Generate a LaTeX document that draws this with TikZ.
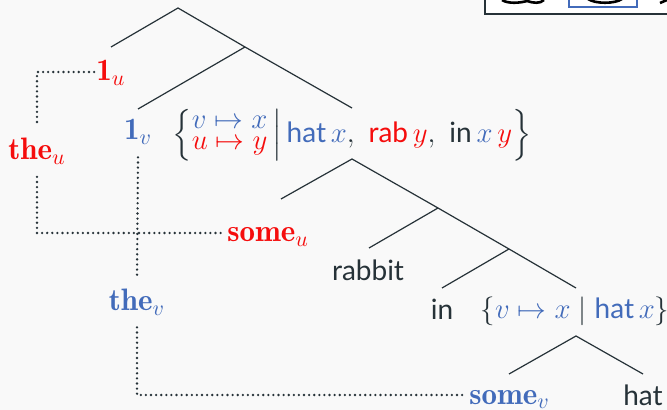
\documentclass[tikz,border=0pt]{standalone}
\usepackage{amsmath}
\usepackage{fontspec}
\newfontfamily\lato{Lato}
\definecolor{ink}{RGB}{38,50,56}
\definecolor{myblue}{RGB}{66,107,186}
\definecolor{myred}{RGB}{245,12,12}
\definecolor{bg}{RGB}{249,249,249}
\newcommand\twostack[2]{{\renewcommand\arraystretch{0.62}\begin{array}{@{}l@{}}#1\\#2\end{array}}}
\newcommand\myword[1]{\text{\fontsize{14}{16}\selectfont\lato #1}}
\begin{document}
\begin{tikzpicture}[x=0.5pt,y=-0.5pt,
  tree/.style={draw=ink,line width=0.6pt},
  dots/.style={draw=ink,line width=1.3pt,dash pattern=on 0pt off 2.55pt,line cap=round},
  lab/.style={inner sep=1pt,text=ink,font=\fontsize{15.5}{17}\selectfont,text height=11pt,text depth=2pt},
  word/.style={lab,font=\fontsize{14}{16}\selectfont\lato},
  setlab/.style={inner sep=1pt,text=ink,font=\fontsize{15}{17}\selectfont},
  redlab/.style={lab,text=myred},
  bluelab/.style={lab,text=myblue},
  gap/.style={minimum height=#1}
]
\useasboundingbox (0,0) rectangle (667,410);
\clip (0,0) rectangle (667,410);
\fill[bg] (0,0) rectangle (667,410);

% cropped picture box at top right
\filldraw[fill=white,draw=ink,line width=1pt] (485,-20) rectangle (690,14);
\draw[myblue,line width=1pt] (569,-20) rectangle (637,7);
\draw[black,line width=1.3pt] (502,0) .. controls (508,4) and (520,3) .. (527,1) .. controls (533,3) and (540,4) .. (544,0);
\draw[black,line width=1.3pt] (588,-1) .. controls (595,4) and (615,4) .. (622,-1);
\draw[black,line width=1.3pt] (660,3) -- (667,0);

% tree coordinates
\coordinate (n0) at (178,8);
\coordinate (e1u) at (111,47);
\coordinate (n1) at (245,47);
\coordinate (e1v) at (138,109);
\coordinate (eS) at (352,108);
\coordinate (n2) at (352,159);
\coordinate (esu) at (281,199);
\coordinate (n3) at (438,208);
\coordinate (erab) at (369,248);
\coordinate (n4) at (509,249);
\coordinate (ein) at (442,288);
\coordinate (eS2) at (576,288);
\coordinate (n5) at (576,336);
\coordinate (esv) at (509,374);
\coordinate (ehat) at (643,374);

\draw[tree] (e1u) -- (n0) -- (n1) -- (eS);
\draw[tree] (n1) -- (e1v);
\draw[tree] (esu) -- (n2) -- (n3) -- (n4) -- (eS2);
\draw[tree] (n3) -- (erab);
\draw[tree] (n4) -- (ein);
\draw[tree] (esv) -- (n5) -- (ehat);

% labels
\node[redlab] (u1) at (111,72) {$\mathbf{1}_u$};
\node[redlab,gap=25.5pt] (theu) at (37,151) {$\mathbf{the}_u$};
\node[bluelab,gap=26pt] (v1) at (138,131) {$\mathbf{1}_v$};
\node[bluelab,gap=25pt] (thev) at (137,302) {$\mathbf{the}_v$};
\node[redlab,anchor=west] (someu) at (225,233) {$\mathbf{some}_u$};
\node[bluelab,anchor=west] (somev) at (467,395) {$\mathbf{some}_v$};
\node[word] (rabbit) at (368,272) {rabbit};
\node[word] (in) at (442,311) {in};
\node[word] (hat) at (643,396) {hat};
\node[setlab] (s1) at (352,135) {$\left\{\twostack{\color{myblue}v\mapsto x}{\color{myred}u\mapsto y}\,\middle|\,{\color{myblue}\myword{hat}\,x},\ {\color{myred}\myword{rab}\,y},\ \myword{in}\,{\color{myblue}x}\,{\color{myred}y}\right\}$};
\node[setlab,text height=11pt,text depth=3pt] (s2) at (575,311) {$\{{\color{myblue}v\mapsto x}\mid{\color{myblue}\myword{hat}\,x}\}$};

% dotted links
\draw[dots] (u1.west) -| (theu.north);
\draw[dots] (theu.south) |- (someu.west);
\draw[dots] (v1.south) -- (thev.north);
\draw[dots] (thev.south) |- (somev.west);
\end{tikzpicture}
\end{document}
